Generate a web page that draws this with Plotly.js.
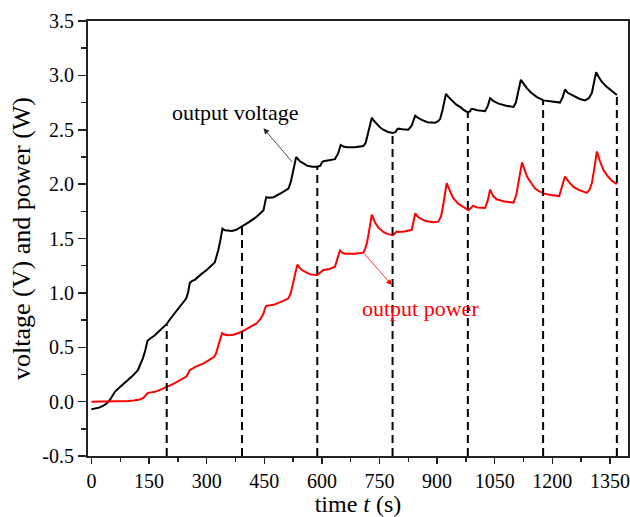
<!DOCTYPE html>
<html>
<head>
<meta charset="utf-8">
<script src="https://cdn.plot.ly/plotly-3.0.1.min.js"></script>
<style>html,body{margin:0;padding:0;background:#fff;}#chart{width:630px;height:517px;}</style>
</head>
<body>
<div id="chart"></div>
<script>
// time (s) and output voltage (V)
const voltTime = [0,10,20,30,40,48,55,61,70,87,105,121,134,140,146,155,165,180,195,205,215,230,247,252,256,262,269,285,300,321,330,336,341,348,356,366,377,392,410,430,448,452,455,464,474,495,513,519,524,529,533,538,543,552,561,575,588,596,600,604,620,634,642,649,656,665,685,708,714,718,724,730,736,743,752,760,772,785,792,795,799,810,825,834,840,843,850,860,875,895,903,908,914,918,923,930,938,950,960,970,980,986,989,993,1005,1025,1032,1038,1048,1060,1080,1099,1105,1108,1113,1118,1126,1134,1145,1160,1177,1195,1220,1227,1233,1240,1255,1270,1285,1295,1303,1308,1314,1320,1329,1340,1350,1360,1368];
const voltage = [-0.07,-0.065,-0.055,-0.04,-0.015,0.015,0.05,0.09,0.12,0.17,0.23,0.29,0.40,0.47,0.56,0.585,0.61,0.66,0.71,0.76,0.805,0.87,0.95,1.01,1.09,1.11,1.12,1.17,1.21,1.28,1.39,1.49,1.59,1.575,1.57,1.57,1.58,1.61,1.65,1.70,1.76,1.83,1.88,1.875,1.88,1.92,1.96,2.02,2.10,2.18,2.25,2.23,2.21,2.19,2.17,2.16,2.16,2.17,2.20,2.21,2.22,2.23,2.28,2.36,2.345,2.34,2.34,2.35,2.38,2.44,2.53,2.61,2.58,2.55,2.52,2.50,2.48,2.47,2.48,2.50,2.51,2.505,2.50,2.54,2.60,2.63,2.61,2.59,2.57,2.565,2.58,2.60,2.68,2.76,2.83,2.80,2.77,2.73,2.71,2.68,2.66,2.67,2.69,2.69,2.68,2.67,2.72,2.79,2.76,2.74,2.72,2.71,2.75,2.80,2.88,2.96,2.92,2.88,2.84,2.80,2.77,2.76,2.75,2.80,2.87,2.84,2.81,2.785,2.77,2.79,2.84,2.93,3.03,2.99,2.94,2.90,2.87,2.84,2.82];

// time (s) and output power (W)
const powerTime = [0,30,60,80,95,110,126,135,139,143,147,155,165,180,195,205,217,232,247,252,256,262,270,291,305,319,324,328,334,340,348,356,370,390,410,430,440,448,452,455,464,474,495,513,519,524,530,536,542,548,558,569,588,596,600,604,620,634,640,647,653,660,685,708,713,717,722,725,730,738,747,760,772,785,792,795,799,815,834,840,843,850,856,870,890,903,910,915,920,925,933,942,955,968,982,988,993,1005,1025,1032,1038,1046,1055,1075,1099,1106,1112,1117,1121,1127,1134,1145,1155,1165,1177,1195,1218,1225,1233,1243,1255,1270,1290,1297,1303,1310,1316,1324,1333,1345,1355,1368];
const power = [0,0,0,0.002,0.005,0.01,0.02,0.035,0.05,0.07,0.08,0.085,0.09,0.11,0.13,0.15,0.17,0.20,0.23,0.26,0.29,0.30,0.32,0.35,0.38,0.41,0.44,0.49,0.56,0.63,0.615,0.61,0.615,0.64,0.68,0.72,0.76,0.81,0.86,0.88,0.885,0.89,0.92,0.95,1.00,1.07,1.17,1.26,1.23,1.21,1.19,1.17,1.165,1.19,1.20,1.21,1.22,1.24,1.31,1.39,1.37,1.36,1.36,1.37,1.41,1.455,1.55,1.62,1.72,1.65,1.60,1.56,1.54,1.53,1.55,1.565,1.56,1.565,1.58,1.68,1.73,1.70,1.685,1.66,1.65,1.655,1.70,1.79,1.90,2.01,1.94,1.87,1.82,1.79,1.76,1.78,1.80,1.785,1.78,1.85,1.95,1.89,1.86,1.84,1.83,1.90,2.04,2.12,2.20,2.13,2.07,2.01,1.96,1.935,1.915,1.90,1.89,1.975,2.07,2.02,1.975,1.945,1.92,1.95,2.01,2.16,2.30,2.21,2.13,2.07,2.03,2.00];

// times of the dashed markers (s)
const dashedTimes = [196, 392, 588, 784, 980, 1176, 1368];

// tick labels
const xTickVals = [0,150,300,450,600,750,900,1050,1200,1350];
const yTickVals = [-0.5,0,0.5,1,1.5,2,2.5,3,3.5];
const yTickText = ['-0.5','0.0','0.5','1.0','1.5','2.0','2.5','3.0','3.5'];

function interp(xs, ys, x) {
  if (x <= xs[0]) return ys[0];
  for (let i = 1; i < xs.length; i++) {
    if (x <= xs[i]) {
      const f = (x - xs[i-1]) / (xs[i] - xs[i-1]);
      return ys[i-1] + f * (ys[i] - ys[i-1]);
    }
  }
  return ys[ys.length - 1];
}

const FONT = "Liberation Serif";

const shapes = dashedTimes.map(t => ({
  type: 'line', xref: 'x', yref: 'y',
  x0: t, x1: t, y0: -0.5, y1: interp(voltTime, voltage, t),
  line: {color: '#000', width: 2, dash: '8px,5px'}
}));

const traces = [
  {x: voltTime, y: voltage, mode: 'lines', name: 'output voltage',
   line: {color: '#000', width: 2}},
  {x: powerTime, y: power, mode: 'lines', name: 'output power',
   line: {color: '#ff0000', width: 2}}
];

const layout = {
  width: 630, height: 517,
  margin: {l: 88, r: 2, t: 21, b: 61},
  paper_bgcolor: '#fff', plot_bgcolor: '#fff',
  showlegend: false,
  font: {family: FONT, size: 20, color: '#000'},
  xaxis: {
    range: [-9, 1397], tickvals: xTickVals,
    ticks: 'outside', ticklen: 6, tickwidth: 1.5, tickcolor: '#222',
    minor: {dtick: 75, tick0: 0, ticks: 'outside', ticklen: 4, tickwidth: 1.5, tickcolor: '#222', showgrid: false},
    showline: true, linewidth: 2, linecolor: '#222', mirror: true,
    showgrid: false, zeroline: false,
    tickfont: {family: FONT, size: 20, color: '#000'},
    title: {text: 'time <i>t</i> (s)', font: {family: FONT, size: 24, color: '#000'}, standoff: 6}
  },
  yaxis: {
    range: [-0.5, 3.5], tickvals: yTickVals, ticktext: yTickText,
    ticks: 'outside', ticklen: 8, tickwidth: 1.5, tickcolor: '#222',
    minor: {dtick: 0.25, tick0: 0, ticks: 'outside', ticklen: 5, tickwidth: 1.5, tickcolor: '#222', showgrid: false},
    showline: true, linewidth: 2, linecolor: '#222', mirror: true,
    showgrid: false, zeroline: false,
    tickfont: {family: FONT, size: 20, color: '#000'},
    title: {text: 'voltage (V) and power (W)', font: {family: FONT, size: 26, color: '#000'}, standoff: 4}
  },
  shapes: shapes,
  annotations: [
    {x: 373, y: 2.66, xref: 'x', yref: 'y', text: 'output voltage', showarrow: false,
     font: {family: FONT, size: 22, color: '#000'}},
    {x: 448, y: 2.513, ax: 526, ay: 2.19, xref: 'x', yref: 'y', axref: 'x', ayref: 'y',
     text: '', showarrow: true, arrowhead: 2, arrowsize: 1.4, arrowwidth: 0.8, arrowcolor: '#222'},
    {x: 858, y: 0.86, xref: 'x', yref: 'y', text: 'output power', showarrow: false,
     font: {family: FONT, size: 22, color: '#ff0000'}},
    {x: 782, y: 1.072, ax: 708, ay: 1.37, xref: 'x', yref: 'y', axref: 'x', ayref: 'y',
     text: '', showarrow: true, arrowhead: 2, arrowsize: 1.4, arrowwidth: 0.8, arrowcolor: '#ff0000'}
  ]
};

Plotly.newPlot('chart', traces, layout, {displayModeBar: false, staticPlot: true});
</script>
</body>
</html>
